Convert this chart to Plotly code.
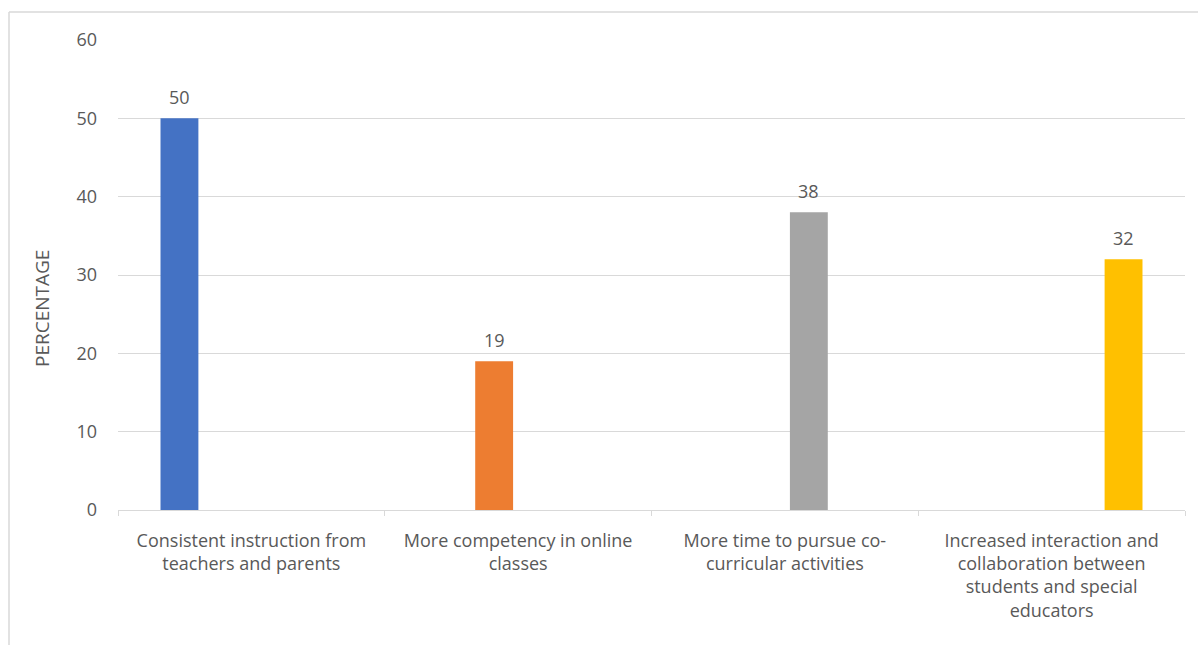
import plotly.graph_objects as go

categories = [
    "Consistent instruction from<br>teachers and parents",
    "More competency in online<br>classes",
    "More time to pursue co-<br>curricular activities",
    "Increased interaction and<br>collaboration between<br>students and special<br>educators",
]
series_names = ["Series 1", "Series 2", "Series 3", "Series 4"]
series_values = [
    [50, None, None, None],
    [None, 19, None, None],
    [None, None, 38, None],
    [None, None, None, 32],
]
series_colors = ["#4472C4", "#ED7D31", "#A5A5A5", "#FFC000"]
y_ticks = [0, 10, 20, 30, 40, 50, 60]
y_title = "PERCENTAGE"

text_color = "#595959"
font_family = "'Open Sans', Lato, sans-serif"
font_size = 18

W, H = 1198, 645
M_L, M_R, M_T, M_B = 118, 13, 40, 135
BARGAP = 0.281
N_SERIES = len(series_names)

fig = go.Figure()
for name, vals, col in zip(series_names, series_values, series_colors):
    fig.add_trace(go.Bar(
        x=categories,
        y=vals,
        name=name,
        marker=dict(color=col, line=dict(width=0)),
    ))

# value labels above each bar, centred on the bar's slot within its group
slot = (1 - BARGAP) / N_SERIES
for k, vals in enumerate(series_values):
    for i, v in enumerate(vals):
        if v is None:
            continue
        fig.add_annotation(
            x=i + (k - (N_SERIES - 1) / 2) * slot,
            y=v,
            xref="x", yref="y",
            text=str(v),
            showarrow=False,
            yanchor="middle",
            yshift=21,
            font=dict(size=font_size, color=text_color, family=font_family),
        )

fig.update_layout(
    width=W,
    height=H,
    margin=dict(l=M_L, r=M_R, t=M_T, b=M_B),
    paper_bgcolor="white",
    plot_bgcolor="white",
    barmode="group",
    bargap=BARGAP,
    bargroupgap=0.21,
    showlegend=False,
    font=dict(family=font_family, size=font_size, color=text_color),
    xaxis=dict(
        type="category",
        showgrid=False,
        showline=True,
        linecolor="#d9d9d9",
        linewidth=1,
        ticks="outside",
        tickson="boundaries",
        ticklen=5,
        tickcolor="#d9d9d9",
        ticklabelstandoff=14,
        tickfont=dict(size=font_size, color=text_color),
    ),
    yaxis=dict(
        range=[0, 60],
        tickvals=y_ticks,
        showgrid=True,
        gridcolor="#d9d9d9",
        gridwidth=1,
        zeroline=False,
        showline=False,
        ticks="",
        ticklabelstandoff=20,
        tickfont=dict(size=font_size, color=text_color),
    ),
)

pw, ph = W - M_L - M_R, H - M_T - M_B

# vertical axis title
fig.add_annotation(
    x=(42 - M_L) / pw, y=(H - 308 - M_B) / ph,
    xref="paper", yref="paper",
    text=y_title, textangle=-90, showarrow=False,
    xanchor="center", yanchor="middle",
    font=dict(size=19, color=text_color, family=font_family),
)

# outer frame of the chart area (top and left edges)
fig.add_shape(type="line", xref="paper", yref="paper",
              x0=(9 - M_L) / pw, x1=(W + 5 - M_L) / pw,
              y0=(H - 12 - M_B) / ph, y1=(H - 12 - M_B) / ph,
              line=dict(color="#d9d9d9", width=1.5))
fig.add_shape(type="line", xref="paper", yref="paper",
              x0=(9 - M_L) / pw, x1=(9 - M_L) / pw,
              y0=(-5 - M_B) / ph, y1=(H - 12 - M_B) / ph,
              line=dict(color="#d9d9d9", width=1.5))

fig.write_html("out.html")
